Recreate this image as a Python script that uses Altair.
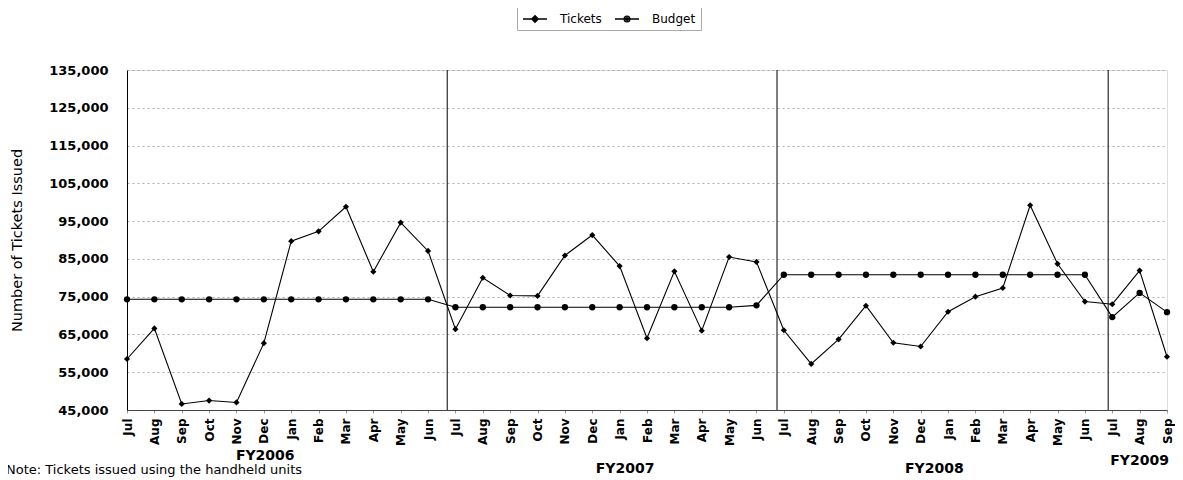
import altair as alt
import pandas as pd

months = ["Jul", "Aug", "Sep", "Oct", "Nov", "Dec", "Jan", "Feb", "Mar", "Apr", "May", "Jun"] * 3 + ["Jul", "Aug", "Sep"]

tickets = [58500, 66600, 46600, 47500, 47000, 62700, 89700, 92300, 98800, 81600, 94600, 87100,
           66400, 80000, 75300, 75200, 85900, 91300, 83100, 64000, 81700, 66000, 85500, 84200,
           66100, 57200, 63700, 72600, 62800, 61800, 71000, 75000, 77300, 99200, 83700, 73700,
           73000, 81900, 59100]

budget = [74300, 74300, 74300, 74300, 74300, 74300, 74300, 74300, 74300, 74300, 74300, 74300,
          72200, 72200, 72200, 72200, 72200, 72200, 72200, 72200, 72200, 72200, 72200, 72700,
          80800, 80800, 80800, 80800, 80800, 80800, 80800, 80800, 80800, 80800, 80800, 80800,
          69600, 76000, 70900]

series_names = ["Tickets", "Budget"]
fy_labels = ["FY2006", "FY2007", "FY2008", "FY2009"]
fy_centers = [5.05, 18.2, 29.5, 37.0]
fy_dy = [46, 59, 59, 51]
fy_separators = [11.7, 23.75, 35.85]
y_ticks = [45000, 55000, 65000, 75000, 85000, 95000, 105000, 115000, 125000, 135000]
note_text = "Note: Tickets issued using the handheld units"

n = len(months)
rows = []
for i in range(n):
    rows.append({"idx": i, "month": months[i], "series": "Tickets", "value": tickets[i]})
for i in range(n):
    rows.append({"idx": i, "month": months[i], "series": "Budget", "value": budget[i]})
df = pd.DataFrame(rows)

W, H = 1040, 340
FONT = "DejaVu Sans"

label_js = "[" + ",".join("'" + m + "'" for m in months) + "][datum.value]"

x_scale = alt.Scale(domain=[0, n - 1], nice=False, zero=False)
x_axis = alt.Axis(
    values=list(range(n)), labelExpr=label_js, title=None,
    labelAngle=-90, labelAlign="right", labelBaseline="middle",
    labelFont=FONT, labelFontSize=12, labelFontWeight="bold", labelColor="black",
    labelPadding=5, tickSize=3, tickColor="#999", domainColor="#444",
    grid=False, labelOverlap=False, labelFlush=False,
)
y_scale = alt.Scale(domain=[45000, 135000], nice=False, zero=False)
y_axis = alt.Axis(
    values=y_ticks, labelExpr="format(datum.value, ',')", title="Number of Tickets Issued",
    labelFont=FONT, labelFontSize=13, labelFontWeight="bold", labelColor="black",
    labelPadding=19, tickSize=0, domainColor="black",
    grid=True, gridColor="#9a9a9a", gridDash=[2, 3], gridWidth=0.8,
    titleFont=FONT, titleFontSize=14.5, titleFontWeight="normal", titleColor="black",
    titleAngle=270, titleAlign="center", titleBaseline="bottom",
    titleX=-103, titleY=H / 2, labelFlush=False,
)


def X(field):
    return alt.X(field, scale=x_scale, axis=x_axis)


def Y(field):
    return alt.Y(field, scale=y_scale, axis=y_axis)


base = alt.Chart(df)

lines = base.mark_line(color="black", strokeWidth=1.1).encode(
    x=X("idx:Q"), y=Y("value:Q"), detail="series:N"
)

pts_t = base.transform_filter(alt.datum.series == "Tickets").mark_point(
    shape="diamond", filled=True, color="black", size=38, opacity=1
).encode(x=X("idx:Q"), y=Y("value:Q"))

pts_b = base.transform_filter(alt.datum.series == "Budget").mark_point(
    shape="circle", filled=True, color="black", size=40, opacity=1
).encode(x=X("idx:Q"), y=Y("value:Q"))

sep_df = pd.DataFrame({"idx": fy_separators})
seps = alt.Chart(sep_df).mark_rule(color="black", strokeWidth=1).encode(x=X("idx:Q"))

fy_df = pd.DataFrame({"label": fy_labels, "idx": fy_centers, "dy": fy_dy})
fy_layers = []
for lab, d in zip(fy_labels, fy_dy):
    fy_layers.append(
        alt.Chart(fy_df).transform_filter(alt.datum.label == lab).mark_text(
            font=FONT, fontSize=14, fontWeight="bold", color="black",
            align="center", baseline="middle"
        ).encode(x=X("idx:Q"), y=alt.value(H + d), text="label:N")
    )

note = alt.Chart(pd.DataFrame({"note": [note_text]})).mark_text(
    font=FONT, fontSize=13, color="black", align="left", baseline="top"
).encode(x=alt.value(-121), y=alt.value(H + 54), text="note:N")

# legend symbols: a line segment with a marker, drawn by stroke only
path_t = ("M-1,0L1,0M-0.28,0L0,-0.28L0.28,0L0,0.28Z"
          "M-0.16,0L0,-0.16L0.16,0L0,0.16ZM-0.05,0L0.05,0")
path_b = ("M-1,0L1,0M-0.24,0A0.24,0.24,0,1,0,0.24,0A0.24,0.24,0,1,0,-0.24,0Z"
          "M-0.12,0A0.12,0.12,0,1,0,0.12,0A0.12,0.12,0,1,0,-0.12,0ZM-0.04,0L0.04,0")

leg = dict(
    orient="none", legendX=390, legendY=-69, direction="horizontal", title=None,
    labelFont=FONT, labelFontSize=12, labelColor="black", labelOffset=12,
    symbolSize=576, symbolStrokeWidth=1.3, symbolOpacity=1,
    strokeColor="#aaa", padding=5, columnPadding=10,
)

legend_layer = alt.Chart(pd.DataFrame({"series": series_names})).transform_filter(
    "false"
).mark_point(filled=False, strokeWidth=1.3, opacity=1).encode(
    color=alt.Color(
        "series:N",
        scale=alt.Scale(domain=series_names, range=["black", "black"]),
        legend=alt.Legend(**leg),
    ),
    shape=alt.Shape(
        "series:N",
        scale=alt.Scale(domain=series_names, range=[path_t, path_b]),
        legend=alt.Legend(**leg),
    ),
)

chart = alt.layer(lines, pts_t, pts_b, seps, *fy_layers, note, legend_layer).properties(
    width=W, height=H,
    autosize=alt.AutoSizeParams(type="none"),
    padding={"left": 119, "top": 62, "right": 8, "bottom": 70},
).configure_view(stroke="black", strokeWidth=1).configure_legend(
    strokeDash=[1, 2]
).configure(background="white")

chart.save("out.html", embed_options={"renderer": "svg", "actions": False})
